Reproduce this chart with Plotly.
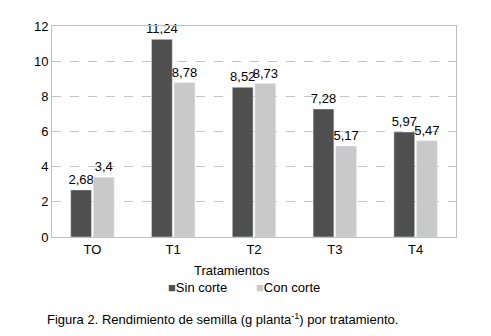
import plotly.graph_objects as go

categories = ["TO", "T1", "T2", "T3", "T4"]
sin_corte = [2.68, 11.24, 8.52, 7.28, 5.97]
con_corte = [3.4, 8.78, 8.73, 5.17, 5.47]
y_ticks = [0, 2, 4, 6, 8, 10, 12]
series_names = ["Sin corte", "Con corte"]
series_colors = ["#4f4f4f", "#c9c9c9"]

def fmt(v):
    return f"{v:g}".replace(".", ",")

FONT = "Liberation Sans, Arial, sans-serif"

L, R, T, B = 52, 35, 26, 99
W, H = 491, 336
PW, PH = W - L - R, H - T - B

def px(xp):
    return (xp - L) / PW

def py(yp):
    return (H - B - yp) / PH

fig = go.Figure()
for name, vals, col in zip(series_names, [sin_corte, con_corte], series_colors):
    fig.add_bar(x=categories, y=vals, name=name, marker_color=col,
                text=[fmt(v) for v in vals], textposition="outside",
                constraintext="none", textangle=0,
                textfont=dict(size=13, color="#000"), cliponaxis=False)

annotations = [
    dict(text="Tratamientos", x=px(232), y=py(270)),
    dict(text=f"<span style='color:{series_colors[0]}'>■</span>{series_names[0]}",
         x=px(166), y=py(287), xanchor="left"),
    dict(text=f"<span style='color:{series_colors[1]}'>■</span>{series_names[1]}",
         x=px(254), y=py(287), xanchor="left"),
    dict(text="Figura 2. Rendimiento de semilla (g planta<sup>-1</sup>) por tratamiento.",
         x=px(45), y=py(319), xanchor="left"),
]
for a in annotations:
    a.setdefault("xanchor", "center")
    a.update(xref="paper", yref="paper", yanchor="middle", showarrow=False,
             font=dict(size=13, family=FONT, color="#000"))

fig.update_layout(
    width=W, height=H,
    margin=dict(l=L, r=R, t=T, b=B, autoexpand=False),
    paper_bgcolor="white", plot_bgcolor="white",
    font=dict(family=FONT, size=13, color="#000"),
    barmode="group", bargap=0.44, bargroupgap=0.08,
    showlegend=False,
    xaxis=dict(showline=True, linecolor="#bfbfbf", linewidth=1, mirror=True,
               ticks="", tickfont=dict(size=13), showgrid=False),
    yaxis=dict(range=[0, 12], tickvals=y_ticks, showline=True, linecolor="#bfbfbf",
               linewidth=1, mirror=True, showgrid=True, gridcolor="#c4c4c4",
               griddash="dash", gridwidth=1, ticks="", tickfont=dict(size=13),
               zeroline=False),
    annotations=annotations,
)

fig.write_html("out.html", config={"displayModeBar": False},
               post_script="document.body.style.margin='0px';document.body.style.overflow='hidden';")
